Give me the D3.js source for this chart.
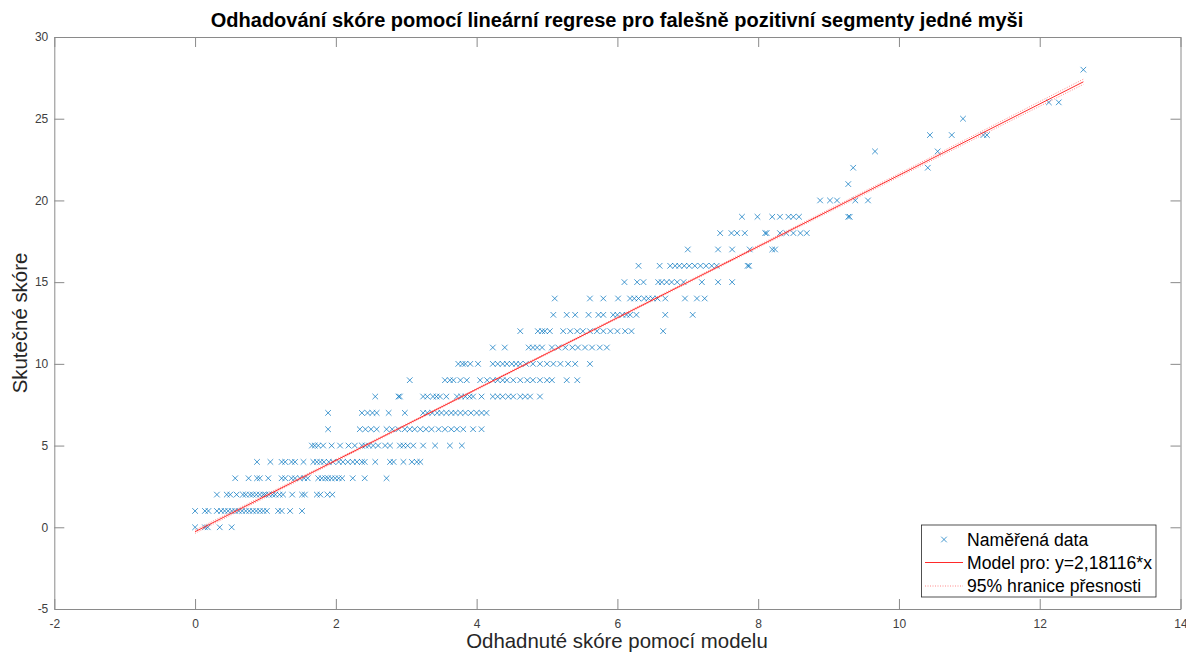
<!DOCTYPE html>
<html>
<head>
<meta charset="utf-8">
<script src="https://cdn.jsdelivr.net/npm/d3@7/dist/d3.min.js"></script>
<style>
  html, body { margin: 0; padding: 0; background: #fff; }
  svg { display: block; font-family: "Liberation Sans", Arial, Helvetica, sans-serif; }
</style>
</head>
<body>
<svg id="chart" width="1186" height="655"></svg>
<script>
// Actual score (integer) and the model estimates observed for each score level
const actualScores = [0, 1, 2, 3, 4, 5, 6, 7, 8, 9, 10, 11, 12, 13, 14, 15, 16, 17, 18, 19, 20, 21, 22, 23, 24, 25, 26, 27, 28];
const estimatesPerScore = [
  [0, 0.14, 0.18, 0.35, 0.52],
  [0, 0.14, 0.19, 0.31, 0.37, 0.42, 0.47, 0.52, 0.57, 0.62, 0.67, 0.72, 0.77, 0.82, 0.87, 0.92, 0.97, 1.02, 1.18, 1.23, 1.35, 1.52],
  [0.31, 0.45, 0.5, 0.59, 0.68, 0.72, 0.78, 0.82, 0.87, 0.92, 0.97, 1.0, 1.05, 1.1, 1.14, 1.2, 1.25, 1.38, 1.52, 1.56, 1.73, 1.78, 1.88, 1.95],
  [0.57, 0.76, 0.88, 0.92, 1.04, 1.23, 1.28, 1.37, 1.42, 1.49, 1.55, 1.6, 1.75, 1.8, 1.85, 1.89, 1.94, 1.99, 2.04, 2.09, 2.24, 2.41, 2.72],
  [0.88, 1.07, 1.23, 1.28, 1.37, 1.42, 1.54, 1.68, 1.73, 1.78, 1.83, 1.9, 1.96, 2.04, 2.1, 2.17, 2.24, 2.3, 2.37, 2.41, 2.56, 2.77, 2.82, 2.96, 3.08, 3.15, 3.2],
  [1.66, 1.7, 1.75, 1.82, 1.94, 2.06, 2.18, 2.27, 2.37, 2.42, 2.47, 2.53, 2.6, 2.7, 2.77, 2.91, 2.96, 3.02, 3.1, 3.24, 3.41, 3.62, 3.79],
  [1.89, 2.34, 2.42, 2.5, 2.58, 2.72, 2.8, 2.89, 2.98, 3.05, 3.12, 3.2, 3.28, 3.36, 3.46, 3.55, 3.64, 3.72, 3.81, 3.95, 4.07],
  [1.89, 2.37, 2.45, 2.52, 2.58, 2.75, 2.98, 3.24, 3.3, 3.37, 3.44, 3.5, 3.57, 3.64, 3.7, 3.77, 3.84, 3.92, 4.0, 4.07, 4.14],
  [2.56, 2.89, 2.91, 3.24, 3.3, 3.38, 3.43, 3.48, 3.57, 3.72, 3.78, 3.84, 3.9, 3.95, 4.07, 4.23, 4.3, 4.37, 4.45, 4.52, 4.62, 4.69, 4.76, 4.9],
  [3.05, 3.55, 3.62, 3.67, 3.77, 3.86, 4.05, 4.15, 4.23, 4.3, 4.37, 4.43, 4.52, 4.62, 4.72, 4.8, 4.9, 5.0, 5.07, 5.28, 5.43],
  [3.74, 3.8, 3.84, 3.91, 4.02, 4.23, 4.3, 4.37, 4.43, 4.5, 4.56, 4.62, 4.7, 4.8, 4.9, 5.0, 5.09, 5.19, 5.3, 5.4, 5.61],
  [4.23, 4.4, 4.74, 4.8, 4.86, 4.93, 5.07, 5.16, 5.26, 5.36, 5.44, 5.54, 5.64, 5.75, 5.85],
  [4.62, 4.87, 4.93, 4.97, 5.04, 5.23, 5.33, 5.43, 5.51, 5.61, 5.71, 5.8, 5.9, 6.0, 6.11, 6.2, 6.65],
  [5.09, 5.28, 5.4, 5.59, 5.73, 5.8, 5.94, 6.0, 6.07, 6.13, 6.18, 6.27, 6.68, 7.07],
  [5.11, 5.61, 5.8, 6.01, 6.18, 6.24, 6.3, 6.38, 6.44, 6.5, 6.57, 6.68, 6.96, 7.13, 7.24],
  [6.1, 6.28, 6.37, 6.58, 6.63, 6.7, 6.77, 6.85, 6.94, 7.2, 7.43, 7.63],
  [6.3, 6.6, 6.75, 6.82, 6.88, 6.95, 7.02, 7.1, 7.18, 7.26, 7.34, 7.41, 7.85, 7.87],
  [7.0, 7.43, 7.63, 7.88, 8.2, 8.24],
  [7.46, 7.62, 7.7, 7.81, 8.1, 8.12, 8.31, 8.4, 8.5, 8.6, 8.69],
  [7.77, 7.99, 8.2, 8.31, 8.43, 8.5, 8.58, 9.28, 9.3],
  [8.88, 9.02, 9.12, 9.38, 9.56],
  [9.28],
  [9.35, 10.41],
  [9.66, 10.55],
  [10.44, 10.75, 11.2, 11.25],
  [10.91],
  [12.13, 12.27],
  [],
  [12.62]
];

// Fitted model: slope from the legend, small offset of the drawn line
const modelSlope = 2.18116;
const modelOffset = -0.27;
const modelRange = [0, 12.62];

// 95% bounds of the fit
const boundX = [0, 3, 6, 9, 12.62];
const boundUpper = [-0.17, 6.32, 12.87, 19.44, 27.42];
const boundLower = [-0.37, 6.22, 12.77, 19.28, 27.10];

const xTicks = [-2, 0, 2, 4, 6, 8, 10, 12, 14];
const yTicks = [-5, 0, 5, 10, 15, 20, 25, 30];

const titleText = "Odhadování skóre pomocí lineární regrese pro falešně pozitivní segmenty jedné myši";
const xLabelText = "Odhadnuté skóre pomocí modelu";
const yLabelText = "Skutečné skóre";
const legendLabels = ["Naměřená data", "Model pro: y=2,18116*x", "95% hranice přesnosti"];

const W = 1186, H = 655;
const plot = { left: 54.3, right: 1180.5, top: 37, bottom: 609 };

const svg = d3.select("#chart");

const x = d3.scaleLinear().domain([-2, 14]).range([plot.left, plot.right]);
const y = d3.scaleLinear().domain([-5, 30]).range([plot.bottom, plot.top]);

const axisColor = "#8a8a8a";
const labelColor = "#262626";
const tickLen = 10;

// Axes with inward ticks on all four sides
function styleAxis(g) {
  g.select(".domain").attr("stroke", axisColor).attr("stroke-width", 1);
  g.selectAll(".tick line").attr("stroke", axisColor).attr("stroke-width", 1);
  g.selectAll(".tick text").attr("fill", "#404040").style("font-size", "12px")
    .style("font-family", '"Liberation Sans", Arial, sans-serif');
}

svg.append("g").attr("transform", `translate(0,${plot.bottom})`)
  .call(d3.axisBottom(x).tickValues(xTicks).tickSize(-tickLen).tickSizeOuter(0).tickPadding(10).tickFormat(d => String(d)))
  .call(styleAxis);
svg.append("g").attr("transform", `translate(0,${plot.top})`)
  .call(d3.axisTop(x).tickValues(xTicks).tickSize(-tickLen).tickSizeOuter(0).tickFormat(""))
  .call(styleAxis);
svg.append("g").attr("transform", `translate(${plot.left},0)`)
  .call(d3.axisLeft(y).tickValues(yTicks).tickSize(-tickLen).tickSizeOuter(0).tickPadding(6).tickFormat(d => String(d)))
  .call(styleAxis);
svg.append("g").attr("transform", `translate(${plot.right},0)`)
  .call(d3.axisRight(y).tickValues(yTicks).tickSize(-tickLen).tickSizeOuter(0).tickFormat(""))
  .call(styleAxis);

// Measured data as "x" markers
const points = [];
actualScores.forEach((s, i) => estimatesPerScore[i].forEach(e => points.push({ e, s })));

const markerColor = "#0072BD";
const h = 2.8;
const xMarker = `M${-h},${-h}L${h},${h}M${-h},${h}L${h},${-h}`;

const gPoints = svg.append("g");
gPoints.selectAll("path").data(points).join("path")
  .attr("d", xMarker)
  .attr("transform", d => `translate(${x(d.e)},${y(d.s)})`)
  .attr("fill", "none")
  .attr("stroke", markerColor)
  .attr("stroke-width", 0.9)
  .attr("stroke-opacity", 0.8);

// Confidence bounds
const boundLine = d3.line().x(d => x(d[0])).y(d => y(d[1])).curve(d3.curveMonotoneX);
const boundStyle = g => g.attr("fill", "none").attr("stroke", "#ff6b6b").attr("stroke-width", 0.8).attr("stroke-dasharray", "1,1.5");
svg.append("path").datum(boundX.map((bx, i) => [bx, boundUpper[i]])).attr("d", boundLine).call(boundStyle);
svg.append("path").datum(boundX.map((bx, i) => [bx, boundLower[i]])).attr("d", boundLine).call(boundStyle);

// Model line
const modelLine = d3.line().x(d => x(d)).y(d => y(modelOffset + modelSlope * d));
svg.append("path").datum(modelRange).attr("d", modelLine)
  .attr("fill", "none").attr("stroke", "#ff2a2a").attr("stroke-width", 1);

// Title and axis labels
svg.append("text").attr("x", 617).attr("y", 27).attr("text-anchor", "middle")
  .style("font-size", "20px").style("font-weight", "bold").attr("fill", "#000").text(titleText);
svg.append("text").attr("x", 617).attr("y", 648).attr("text-anchor", "middle")
  .style("font-size", "20.4px").attr("fill", labelColor).text(xLabelText);
svg.append("text").attr("transform", `translate(27,${(plot.top + plot.bottom) / 2}) rotate(-90)`)
  .attr("text-anchor", "middle").style("font-size", "20.4px").attr("fill", labelColor).text(yLabelText);

// Legend
const lg = svg.append("g");
lg.append("rect").attr("x", 921.5).attr("y", 525).attr("width", 234.5).attr("height", 72)
  .attr("fill", "#fff").attr("stroke", "#262626").attr("stroke-width", 0.8);
const rowY = [539.5, 562.5, 586];
lg.append("path").attr("d", xMarker).attr("transform", `translate(944,${rowY[0]})`)
  .attr("fill", "none").attr("stroke", markerColor).attr("stroke-width", 0.9).attr("stroke-opacity", 0.8);
lg.append("line").attr("x1", 925).attr("x2", 963).attr("y1", rowY[1]).attr("y2", rowY[1])
  .attr("stroke", "#ff2a2a").attr("stroke-width", 1);
lg.append("line").attr("x1", 925).attr("x2", 963).attr("y1", rowY[2]).attr("y2", rowY[2])
  .call(boundStyle);
legendLabels.forEach((t, i) => {
  lg.append("text").attr("x", 967).attr("y", rowY[i]).attr("dy", "0.35em")
    .style("font-size", "17.6px").attr("fill", "#000").text(t);
});
</script>
</body>
</html>
